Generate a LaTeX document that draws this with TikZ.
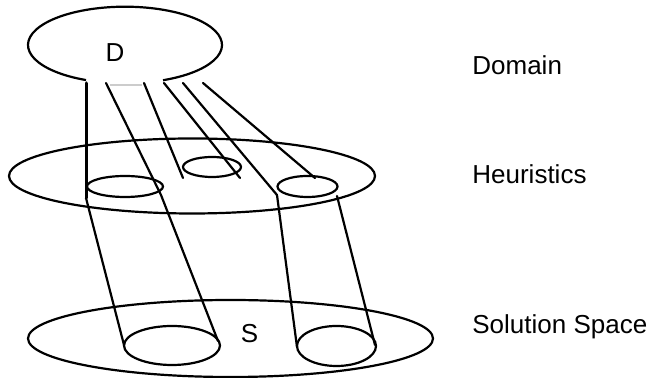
\documentclass[tikz,border=0pt]{standalone}
\usepackage{fontspec}
\setmainfont{Liberation Sans}
\tikzset{
    ring/.style = {
       draw,
       line width = 1.1pt
    },
    link/.style = {
       -,
       line width = 1.1pt,
       line cap = round
    },
    Tnode/.style = {
       anchor = base,
       inner sep = 0pt,
       font = \fontsize{13}{15}\selectfont
    },
    Lnode/.style = {
       anchor = base west,
       inner sep = 0pt,
       font = \fontsize{13}{15}\selectfont
    }
}
\begin{document}
\begin{tikzpicture}[x=0.5pt,y=-0.5pt]
   \useasboundingbox (0,0) rectangle (654,378);
%  layers
   \draw[ring] (125,45) ++(113.7:97 and 38.3) arc[start angle=113.7, end angle=426.9, x radius=97, y radius=38.3];
   \draw[gray!40, line width=0.6pt] (110,85) -- (142,85);
   \draw[ring] (192,176) ellipse [x radius=183, y radius=37.5];
   \draw[ring] (230.5,338.5) ellipse [x radius=202.5, y radius=38.5];
%  small sets
   \draw[ring] (125,186.5) ellipse [x radius=38, y radius=10.5];
   \draw[ring] (212,167) ellipse [x radius=29, y radius=10];
   \draw[ring] (307.5,186.5) ellipse [x radius=30, y radius=10.5];
   \draw[ring] (172,345.5) ellipse [x radius=48, y radius=19.5];
   \draw[ring] (336.5,346) ellipse [x radius=39.5, y radius=20];
%  texts
   \node[Tnode] (D) at (115,62) {D};
   \node[Tnode] (S) at (249.5,343) {S};
   \node[Lnode] (Domain) at (472,75) {Domain};
   \node[Lnode] (Heuristics) at (472,184) {Heuristics};
   \node[Lnode] (SolutionSpace) at (472,334) {Solution Space};
%  line ends
   \coordinate (D1) at (86,83);
   \coordinate (D2) at (106,83);
   \coordinate (D3) at (144,83);
   \coordinate (D4) at (164,83);
   \coordinate (D5) at (183,83);
   \coordinate (D6) at (203,83);
   \coordinate (H1) at (86,198);
   \coordinate (H2) at (161,195);
   \coordinate (H3) at (183,178);
   \coordinate (H4) at (240,178);
   \coordinate (H5) at (277,195);
   \coordinate (H6) at (315,178);
   \coordinate (H7) at (337,196);
   \coordinate (S1) at (124,345);
   \coordinate (S2) at (218,341);
   \coordinate (S3) at (297,347);
   \coordinate (S4) at (375,345);
\path[link]
(D1) edge[line width=1.5pt] (H1)
(D2) edge (H2)
(D3) edge (H3)
(D4) edge (H4)
(D5) edge (H5)
(D6) edge (H6)
(H1) edge (S1)
(H2) edge (S2)
(H5) edge (S3)
(H7) edge (S4);
\end{tikzpicture}
\end{document}
